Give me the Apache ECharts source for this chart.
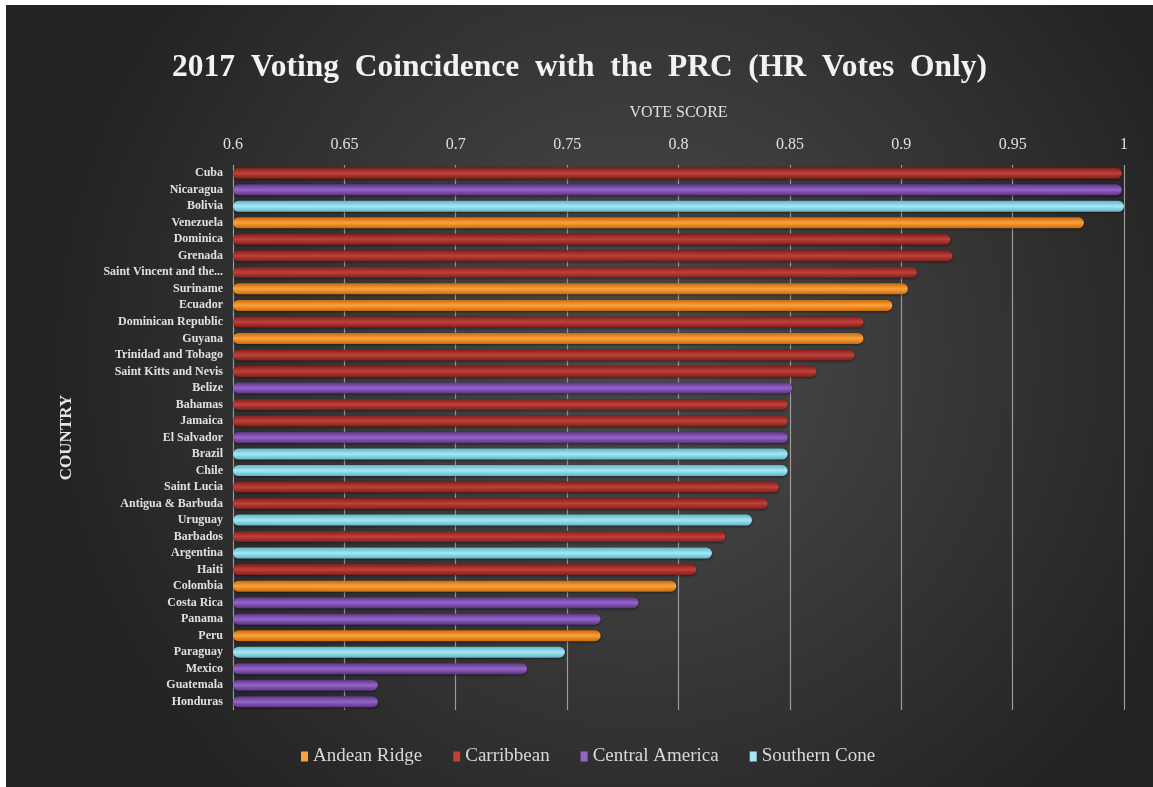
<!DOCTYPE html>
<html>
<head>
<meta charset="utf-8">
<script src="https://cdn.jsdelivr.net/npm/echarts@6/dist/echarts.min.js"></script>
<style>
html,body{margin:0;padding:0;background:#ffffff;}
#chart{position:absolute;left:6px;top:5px;width:1147px;height:782px;}
</style>
</head>
<body>
<div id="chart"></div>
<script>
var countries = ["Cuba","Nicaragua","Bolivia","Venezuela","Dominica","Grenada","Saint Vincent and the...","Suriname","Ecuador","Dominican Republic","Guyana","Trinidad and Tobago","Saint Kitts and Nevis","Belize","Bahamas","Jamaica","El Salvador","Brazil","Chile","Saint Lucia","Antigua & Barbuda","Uruguay","Barbados","Argentina","Haiti","Colombia","Costa Rica","Panama","Peru","Paraguay","Mexico","Guatemala","Honduras"];
var regions = ["Caribbean","Central America","Southern Cone","Andean Ridge","Caribbean","Caribbean","Caribbean","Andean Ridge","Andean Ridge","Caribbean","Andean Ridge","Caribbean","Caribbean","Central America","Caribbean","Caribbean","Central America","Southern Cone","Southern Cone","Caribbean","Caribbean","Southern Cone","Caribbean","Southern Cone","Caribbean","Andean Ridge","Central America","Central America","Andean Ridge","Southern Cone","Central America","Central America","Central America"];
var scores = [0.999,0.999,1.0,0.982,0.922,0.923,0.907,0.903,0.896,0.883,0.883,0.879,0.862,0.851,0.849,0.849,0.849,0.849,0.849,0.845,0.840,0.833,0.821,0.815,0.808,0.799,0.782,0.765,0.765,0.749,0.732,0.665,0.665];
var legendNames = ["Andean Ridge","Carribbean","Central America","Southern Cone"];
var regionKeys = ["Andean Ridge","Caribbean","Central America","Southern Cone"];
var xTicks = {min:0.6, max:1, interval:0.05};

var palette = {
  "Andean Ridge": ["#c96a0c","#fba23a","#c96a0c"],
  "Caribbean": ["#7e1f1b","#c0403a","#7e1f1b"],
  "Central America": ["#5a3486","#9565c6","#5a3486"],
  "Southern Cone": ["#5fb5c8","#a6e8f5","#5fb5c8"]
};
function grad(c){
  return new echarts.graphic.LinearGradient(0,0,0,1,[
    {offset:0,color:c[0]},{offset:0.5,color:c[1]},{offset:1,color:c[2]}
  ]);
}
var series = regionKeys.map(function(key, i){
  return {
    name: legendNames[i],
    type: 'bar',
    barWidth: 11,
    barGap: '-100%',
    data: scores.map(function(v, j){ return regions[j] === key ? v : null; }),
    itemStyle: { color: grad(palette[key]), borderRadius: 5.5, shadowColor:'rgba(0,0,0,0.5)', shadowBlur:3, shadowOffsetY:1 }
  };
});

var chart = echarts.init(document.getElementById('chart'));
chart.setOption({
  backgroundColor: new echarts.graphic.RadialGradient(0.55,0.45,0.75,[
    {offset:0,color:'#4d4d4d'},{offset:1,color:'#232323'}
  ]),
  title: {
    text: '2017  Voting  Coincidence  with  the  PRC  (HR  Votes  Only)',
    left: 'center', top: 42,
    textStyle: { fontFamily:'Liberation Serif', fontWeight:'bold', fontSize:31.5, color:'#f2f2f2' }
  },
  legend: {
    bottom: 16, left: 290, itemGap: 31,
    itemWidth: 7, itemHeight: 10, icon: 'rect',
    textStyle: { fontFamily:'Liberation Serif', fontSize:19, color:'#d9d9d9' },
    data: legendNames.map(function(n, i){ return {name:n, itemStyle:{color: palette[regionKeys[i]][1]}}; })
  },
  grid: { left: 227, right: 29, top: 160, bottom: 77 },
  xAxis: {
    type: 'value', position: 'top',
    min: xTicks.min, max: xTicks.max, interval: xTicks.interval,
    name: 'VOTE SCORE', nameLocation: 'middle', nameGap: 44,
    nameTextStyle: { fontFamily:'Liberation Serif', fontSize:16, color:'#e0e0e0' },
    axisLine: { show: false }, axisTick: { show: false },
    axisLabel: { fontFamily:'Liberation Serif', fontSize:16, color:'#e0e0e0', margin: 12 },
    splitLine: { show: true, lineStyle: { color:'#9a9a9a', width: 1.2 } }
  },
  yAxis: {
    type: 'category', inverse: true, data: countries,
    name: 'COUNTRY', nameLocation: 'middle', nameGap: 158, nameRotate: 90,
    nameTextStyle: { fontFamily:'Liberation Serif', fontWeight:'bold', fontSize:17, color:'#e6e6e6' },
    axisLine: { show: false }, axisTick: { show: false },
    axisLabel: { interval: 0, fontFamily:'Liberation Serif', fontWeight:'bold', fontSize:12, color:'#e0e0e0', margin: 10 }
  },
  series: series
});
</script>
</body>
</html>
